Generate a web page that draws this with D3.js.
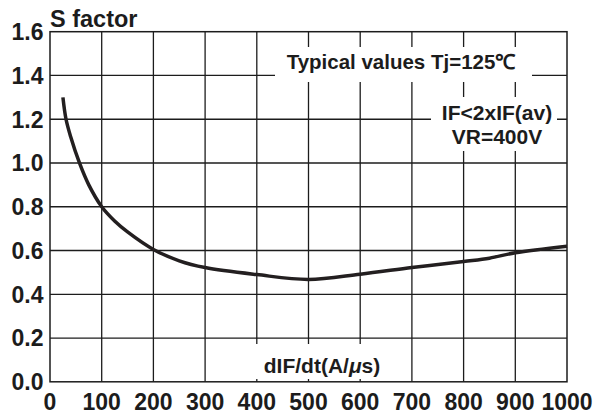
<!DOCTYPE html>
<html><head><meta charset="utf-8">
<script src="https://cdn.jsdelivr.net/npm/d3@7"></script>
<style>html,body{margin:0;padding:0;background:#fff;}svg{display:block;}</style>
</head><body>
<svg id="c" width="606" height="416"></svg>
<script>
const xTicks = [0,100,200,300,400,500,600,700,800,900,1000];
const yTicks = [0.0,0.2,0.4,0.6,0.8,1.0,1.2,1.4,1.6];
const yTickLabels = ["0.0","0.2","0.4","0.6","0.8","1.0","1.2","1.4","1.6"];
const curveX = [25,31,40,57,75,100,125,150,200,250,300,400,500,600,700,800,850,900,1000];
const curveY = [1.30,1.20,1.12,1.00,0.90,0.80,0.735,0.685,0.605,0.553,0.522,0.49,0.468,0.492,0.522,0.55,0.565,0.59,0.62];
const yTitle = "S factor";
const xTitleA = "dIF/dt(A/", xTitleMu = "μ", xTitleB = "s)";
const note1 = "Typical values Tj=125℃";
const note2 = ["IF<2xIF(av)","VR=400V"];

const svg = d3.select("#c");
const L=50, R=567, T=31.7, B=381.8;
const x = d3.scaleLinear().domain([0,1000]).range([L,R]);
const y = d3.scaleLinear().domain([0,1.6]).range([B,T]);
const ink = "#1c1c1c";
const font = "'Liberation Sans', Arial, Helvetica, sans-serif";

// grid
const g = svg.append("g");
g.selectAll("line.v").data(xTicks.slice(1,-1)).join("line")
 .attr("x1",d=>x(d)).attr("x2",d=>x(d)).attr("y1",T).attr("y2",B)
 .attr("stroke",ink).attr("stroke-width",1.3);
g.selectAll("line.h").data(yTicks.slice(1,-1)).join("line")
 .attr("y1",d=>y(d)).attr("y2",d=>y(d)).attr("x1",L).attr("x2",R)
 .attr("stroke",ink).attr("stroke-width",1.3);
svg.append("rect").attr("x",L).attr("y",T).attr("width",R-L).attr("height",B-T)
 .attr("fill","none").attr("stroke",ink).attr("stroke-width",1.5);

// white boxes behind annotations
svg.append("rect").attr("x",275).attr("y",47).attr("width",257).attr("height",35).attr("fill","#fff");
svg.append("rect").attr("x",431).attr("y",97).attr("width",126).attr("height",54).attr("fill","#fff");
svg.append("rect").attr("x",250).attr("y",344).attr("width",150).attr("height",35).attr("fill","#fff");

// curve
const pts = curveX.map((v,i)=>[v,curveY[i]]);
svg.append("path").datum(pts)
 .attr("d", d3.line().x(d=>x(d[0])).y(d=>y(d[1])).curve(d3.curveCatmullRom.alpha(0.5)))
 .attr("fill","none").attr("stroke","#231f20").attr("stroke-width",3.5).attr("stroke-linecap","butt");

// tick labels
svg.selectAll("text.yt").data(yTicks).join("text")
 .attr("x",43.5).attr("y",d=>y(d)).attr("dy","0.36em").attr("text-anchor","end")
 .attr("font-family",font).attr("font-weight","bold").attr("font-size",23).attr("fill",ink)
 .text((d,i)=>yTickLabels[i]);
svg.selectAll("text.xt").data(xTicks).join("text")
 .attr("x",d=>x(d)).attr("y",409.5).attr("text-anchor","middle")
 .attr("font-family",font).attr("font-weight","bold").attr("font-size",23).attr("fill",ink)
 .text(d=>d);

// titles
svg.append("text").attr("x",50).attr("y",26.7).attr("font-family",font).attr("font-weight","bold")
 .attr("font-size",23.5).attr("fill",ink).text(yTitle);
const xt = svg.append("text").attr("x",322).attr("y",373).attr("text-anchor","middle").attr("font-family",font).attr("font-weight","bold")
 .attr("font-size",21).attr("fill",ink);
xt.append("tspan").text(xTitleA);
xt.append("tspan").attr("font-style","italic").text(xTitleMu);
xt.append("tspan").text(xTitleB);
svg.append("text").attr("x",401).attr("y",68.5).attr("text-anchor","middle").attr("font-family",font).attr("font-weight","bold")
 .attr("font-size",20.5).attr("fill",ink).text(note1);
svg.selectAll("text.n2").data(note2).join("text")
 .attr("x",497).attr("y",(d,i)=>119.5+i*24).attr("text-anchor","middle").attr("font-family",font).attr("font-weight","bold")
 .attr("font-size",21).attr("fill",ink).text(d=>d);
</script>
</body></html>
